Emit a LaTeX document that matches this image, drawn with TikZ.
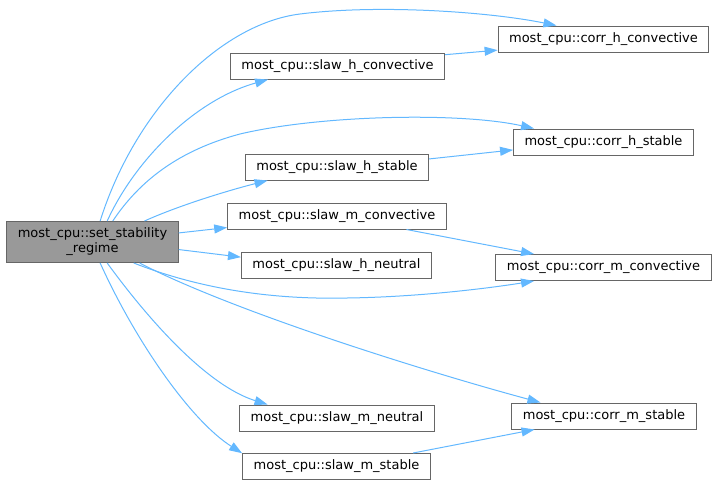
\documentclass[tikz,border=0pt]{standalone}
\usepackage{fontspec}
\setmainfont{DejaVu Sans}
\usetikzlibrary{arrows.meta}
\definecolor{edgeblue}{HTML}{63B8FF}
\definecolor{boxgray}{HTML}{666666}
\definecolor{mainfill}{HTML}{999999}
\tikzset{
  fn/.style={draw=boxgray, fill=white, line width=1pt, inner xsep=11pt, inner ysep=0pt,
    minimum height=26pt, font=\fontsize{13}{15}\selectfont},
  mainfn/.style={fn, fill=mainfill, minimum height=41pt, align=center},
  call/.style={draw=edgeblue, line width=1pt, -{Triangle[length=13pt,width=9pt]}}
}
\begin{document}
\begin{tikzpicture}[x=1pt,y=-1pt]
    \useasboundingbox (0,0) rectangle (717,485);
    \node[mainfn] (setstab) at (92.5,242) {most\_cpu::set\_stability\\\_regime};
    \node[fn] (shconv) at (337.5,66) {most\_cpu::slaw\_h\_convective};
    \node[fn] (chconv) at (603.5,39) {most\_cpu::corr\_h\_convective};
    \node[fn] (chstab) at (603.5,142) {most\_cpu::corr\_h\_stable};
    \node[fn] (shstab) at (337,167) {most\_cpu::slaw\_h\_stable};
    \node[fn] (smconv) at (337,216) {most\_cpu::slaw\_m\_convective};
    \node[fn] (shneut) at (336.5,265.5) {most\_cpu::slaw\_h\_neutral};
    \node[fn] (cmconv) at (603.5,267.5) {most\_cpu::corr\_m\_convective};
    \node[fn] (smneut) at (337,418) {most\_cpu::slaw\_m\_neutral};
    \node[fn] (cmstab) at (604,416) {most\_cpu::corr\_m\_stable};
    \node[fn] (smstab) at (336.5,466.5) {most\_cpu::slaw\_m\_stable};

    \draw[call] (setstab.70) .. controls (135,110) and (220,24) .. (300,14) .. controls (380,4) and (490,12) .. (chconv.164);
    \draw[call] (setstab.55) .. controls (135,160) and (195,100) .. (shconv.191);
    \draw[call] (shconv.6) -- (chconv.186);
    \draw[call] (setstab.46) .. controls (140,180) and (180,150) .. (240,134) .. controls (320,115) and (460,112) .. (chstab.169);
    \draw[call] (setstab.22) .. controls (180,205) and (230,190) .. (shstab.191);
    \draw[call] (shstab.5) -- (chstab.185);
    \draw[call] (setstab.6) -- (smconv.186);
    \draw[call] (setstab.-5) -- (shneut.175);
    \draw[call] (smconv.-11) -- (cmconv.169);
    \draw[call] (setstab.-27) .. controls (190,285) and (260,300) .. (347,298) .. controls (420,297) and (490,288) .. (cmconv.191);
    \draw[call] (setstab.-24) .. controls (230,310) and (420,370) .. (cmstab.168);
    \draw[call] (setstab.-55) .. controls (145,315) and (205,385) .. (smneut.169);
    \draw[call] (setstab.-70) .. controls (135,340) and (190,420) .. (smstab.172);
    \draw[call] (smstab.10) -- (cmstab.191);
\end{tikzpicture}
\end{document}
